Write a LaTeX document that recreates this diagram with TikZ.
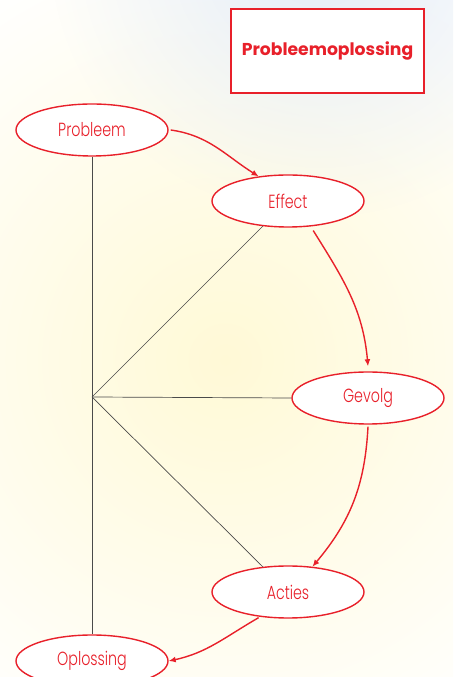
\documentclass[tikz,border=0pt]{standalone}
\usepackage{fontspec}
\setmainfont{Poppins}
\IfFontExistsTF{Poppins Light}
  {\newfontfamily\stagefont{Poppins Light}[FakeStretch=0.75]}
  {\newfontfamily\stagefont{Poppins}[FakeStretch=0.75]}
\usetikzlibrary{shapes.geometric,arrows.meta,fadings}

\definecolor{flowred}{HTML}{E8202A}
\definecolor{spoke}{HTML}{4A4A4A}
\definecolor{glow}{HTML}{FFF9D6}
\definecolor{haze}{HTML}{E4ECF8}

\tikzfading[name=softblob, inner color=transparent!0, outer color=transparent!100]

\tikzset{
  stage/.style={ellipse, draw=flowred, line width=1.4pt, fill=white,
    minimum width=152pt, minimum height=52pt, inner sep=0pt,
    text=flowred, font=\stagefont\fontsize{19}{21}\selectfont},
  titlebox/.style={draw=flowred, line width=1.6pt, fill=white,
    minimum width=193pt, minimum height=84pt, inner sep=0pt,
    text=flowred, font=\fontsize{17.2}{20}\selectfont\bfseries},
  flow/.style={draw=flowred, line width=1.4pt, -{Latex[length=7pt,width=6pt]}},
  link/.style={draw=spoke, line width=0.7pt},
}

\begin{document}
\begin{tikzpicture}[x=1pt, y=1pt]
  % page and background glow
  \useasboundingbox (0,0) rectangle (453,677);
  \fill[white] (0,0) rectangle (453,677);
  \begin{scope}
    \clip (0,0) rectangle (453,677);
    \shade[inner color=glow, outer color=white] (225,317) circle (440);
    \fill[haze, path fading=softblob] (320,730) circle (270);
  \end{scope}

  % heading
  \node[titlebox] (title) at (327.5,626) {\raisebox{3pt}{Probleemoplossing}};

  % stages
  \node[stage] (probleem) at (92,547) {Probleem};
  \node[stage] (effect)   at (288,476) {Effect};
  \node[stage] (gevolg)   at (368,279) {Gevolg};
  \node[stage] (acties)   at (288,85)  {Acties};
  \node[stage] (oplossing) at (92,16)  {Oplossing};

  % spokes from the central axis
  \coordinate (hub) at (92,280);
  \draw[link] (probleem.south) -- (oplossing.north);
  \draw[link] (hub) -- (effect.-135);
  \draw[link] (hub) -- (gevolg.west);
  \draw[link] (hub) -- (acties.135);

  % red cycle of arrows
  \draw[flow] ([xshift=2pt]probleem.east) to[out=-8,in=148] (effect.140);
  \draw[flow] ([shift={(3pt,-4pt)}]effect.-49) to[out=-58,in=95] ([yshift=5pt]gevolg.north);
  \draw[flow] ([yshift=-2pt]gevolg.south) to[out=-93,in=50] (acties.46);
  \draw[flow] ([yshift=-1pt]acties.-140) to[out=-150,in=12] (oplossing.east);
\end{tikzpicture}
\end{document}
